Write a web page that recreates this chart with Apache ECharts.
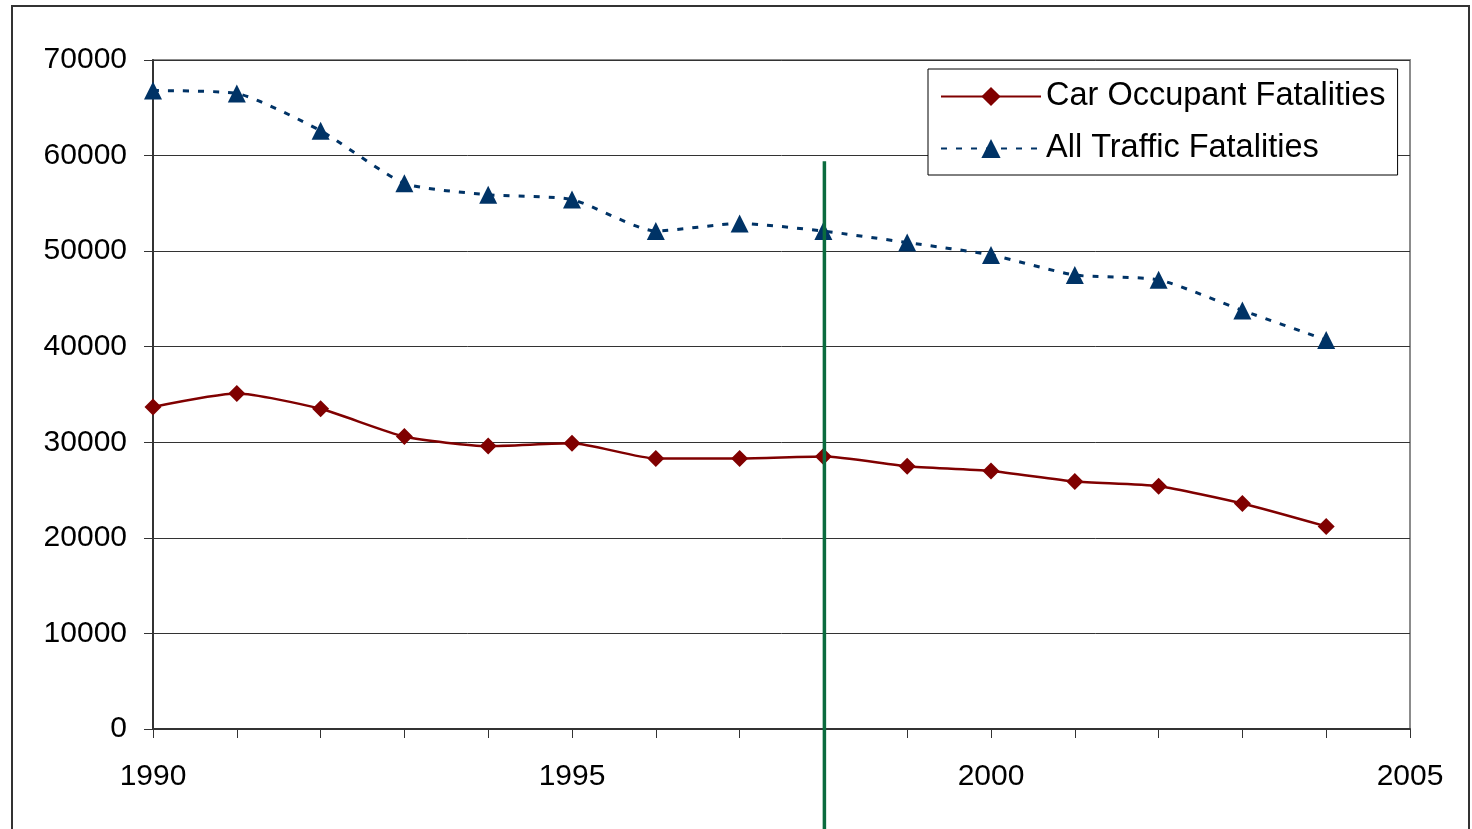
<!DOCTYPE html>
<html>
<head>
<meta charset="utf-8">
<script src="https://cdn.jsdelivr.net/npm/echarts@6/dist/echarts.min.js"></script>
<style>
  html, body { margin: 0; padding: 0; background: #fff; }
  #chart { width: 1472px; height: 829px; }
</style>
</head>
<body>
<div id="chart"></div>
<script>
// Annual fatality counts, 1990-2004
const years = [1990, 1991, 1992, 1993, 1994, 1995, 1996, 1997, 1998, 1999, 2000, 2001, 2002, 2003, 2004];
const carOccupant = [33700, 35100, 33500, 30600, 29600, 29900, 28300, 28300, 28500, 27500, 27000, 25900, 25400, 23600, 21200];
const allTraffic = [66800, 66500, 62600, 57100, 55900, 55400, 52100, 52900, 52100, 50900, 49600, 47500, 47000, 43800, 40700];
const seriesNames = ['Car Occupant Fatalities', 'All Traffic Fatalities'];
// Reference year marked with a vertical rule, and the value where the rule starts
const markerYear = 1998;
const markerTop = 59400;

const font = '"Liberation Sans", Arial, sans-serif';
const chart = echarts.init(document.getElementById('chart'));

const pairs = vals => years.map((y, i) => [y, vals[i]]);

chart.setOption({
  animation: false,
  backgroundColor: '#fff',
  grid: {
    left: 153, right: 62, top: 60, bottom: 100,
    show: true, borderColor: '#8c8c8c', borderWidth: 2
  },
  legend: {
    orient: 'vertical',
    left: 928, top: 69,
    padding: [11, 12, 10, 12],
    itemGap: 19,
    itemWidth: 100,
    itemHeight: 24,
    borderColor: '#000',
    borderWidth: 1,
    backgroundColor: '#fff',
    textStyle: { fontFamily: font, fontSize: 32.5, color: '#000' },
    data: seriesNames
  },
  xAxis: {
    type: 'value',
    min: 1990, max: 2005, interval: 1,
    axisLine: { lineStyle: { color: '#333', width: 2 } },
    axisTick: { show: true, length: 9, lineStyle: { color: '#333', width: 1 } },
    axisLabel: {
      margin: 33,
      fontFamily: font, fontSize: 30, color: '#000',
      formatter: v => (v % 5 === 0 ? String(v) : '')
    },
    splitLine: { show: false }
  },
  yAxis: {
    type: 'value',
    min: 0, max: 70000, interval: 10000,
    axisLine: { show: true, lineStyle: { color: '#333', width: 2 } },
    axisTick: { show: true, length: 9, lineStyle: { color: '#333', width: 1 } },
    axisLabel: {
      margin: 26, fontFamily: font, fontSize: 30, color: '#000',
      formatter: v => String(v)
    },
    splitLine: { show: true, lineStyle: { color: '#333', width: 1 } }
  },
  series: [
    {
      name: seriesNames[0],
      type: 'line',
      smooth: 0.2,
      data: pairs(carOccupant),
      symbol: 'diamond',
      symbolSize: 17,
      lineStyle: { color: '#800000', width: 2.5 },
      itemStyle: { color: '#800000' },
      z: 3
    },
    {
      name: seriesNames[1],
      type: 'line',
      smooth: 0.2,
      data: pairs(allTraffic),
      symbol: 'triangle',
      symbolSize: 18,
      lineStyle: { color: '#003366', width: 3, type: [6, 9] },
      itemStyle: { color: '#003366' },
      z: 3
    }
  ]
});

// Outer frame and the vertical reference rule, placed through the axis scales
const mx = chart.convertToPixel({ xAxisIndex: 0 }, markerYear);
const my = chart.convertToPixel({ yAxisIndex: 0 }, markerTop);
chart.setOption({
  graphic: [
    {
      type: 'rect',
      shape: { x: 12, y: 6, width: 1457, height: 900 },
      style: { fill: 'none', stroke: '#333', lineWidth: 2 },
      silent: true, z: 0
    },
    {
      type: 'line',
      shape: { x1: mx + 1, y1: my, x2: mx + 1, y2: chart.getHeight() },
      style: { stroke: '#0b6b3e', lineWidth: 3.5 },
      silent: true, z: 10
    }
  ]
});
</script>
</body>
</html>
